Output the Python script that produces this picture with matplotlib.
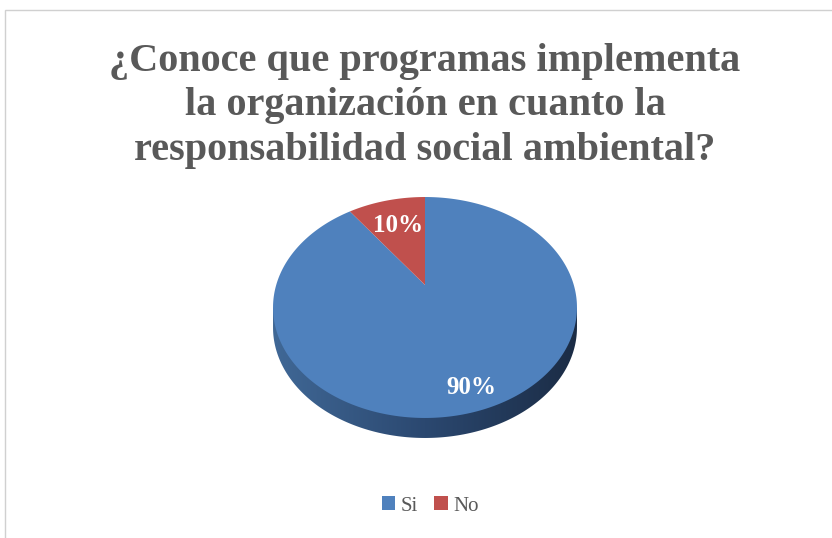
import matplotlib
matplotlib.use("Agg")
import matplotlib.pyplot as plt
import numpy as np
from matplotlib.patches import Rectangle, Polygon
from matplotlib.path import Path
from matplotlib.colors import LinearSegmentedColormap

TITLE = "¿Conoce que programas implementa\nla organización en cuanto la\nresponsabilidad social ambiental?"
labels = ["Si", "No"]
values = [90, 10]
colors = ["#4F81BD", "#C0504D"]

SERIF = "Liberation Serif"
W, H = 832, 538
fig = plt.figure(figsize=(W / 100, H / 100), dpi=100)

# chart area frame (only top/left edges visible)
fig.patches.append(Rectangle((5 / W, -0.1), 1.2, (H - 10) / H + 0.1,
                             transform=fig.transFigure, fill=False,
                             edgecolor="#d0d0d0", linewidth=1.0))

fig.text(425 / W, 1 - 106 / H, TITLE, ha="center", va="center",
         fontsize=29, fontweight="bold", color="#595959",
         family=SERIF, linespacing=1.27)

# perspective of a disc tilted away from the viewer
K = 0.2036


def project(x, y):
    d = 1 + K * y
    return x / d, y / d


apex_x, apex_y = 425, 285          # pixel position of the pie centre
sx, sy = 148.8, 105.9              # pixels per unit
D = 20 / sy                        # rim thickness

# the projected circle is an ellipse centred at (0, yc)
ea = 1 / np.sqrt(1 - K ** 2)
eb = 1 / (1 - K ** 2)
yc = -K / (1 - K ** 2)

xlim = (-1.12, 1.12)
ylim = (yc - eb - D - 0.08, 1 / (1 + K) + 0.06)
left = apex_x + xlim[0] * sx
bottom = (H - apex_y) + ylim[0] * sy
ax = fig.add_axes([left / W, bottom / H,
                   (xlim[1] - xlim[0]) * sx / W, (ylim[1] - ylim[0]) * sy / H])

wedges, _, autotexts = ax.pie(values, colors=colors, startangle=90,
                              counterclock=False, autopct="%1.0f%%",
                              wedgeprops=dict(linewidth=0),
                              textprops=dict(color="white", fontsize=18,
                                             fontweight="bold", family=SERIF))
ax.set_aspect("auto")
ax.set_xlim(*xlim)
ax.set_ylim(*ylim)
ax.axis("off")

# project each wedge outline (densely sampled) onto the tilted disc
for w in wedges:
    th = np.deg2rad(np.linspace(w.theta1, w.theta2, 300))
    px_, py_ = project(w.r * np.cos(th), w.r * np.sin(th))
    verts = np.vstack([[0, 0], np.column_stack([px_, py_]), [0, 0]])
    w._path = Path(verts, closed=True)
    w.set_zorder(2)

# percentage labels at their wedge's mid-angle, projected
label_r = [0.85, 0.67]
for w, a, r in zip(wedges, autotexts, label_r):
    mid = np.deg2rad((w.theta1 + w.theta2) / 2)
    a.set_position(project(r * np.cos(mid), r * np.sin(mid)))
    a.set_zorder(3)

# side of the disc: lower half of the outline dropped by the rim thickness
u = np.linspace(0, -np.pi, 240)
rim = np.vstack([[[-ea, yc], [ea, yc]],
                 np.column_stack([ea * np.cos(u), yc - D + eb * np.sin(u)])])
rim_patch = Polygon(rim[::-1], closed=True, facecolor="none", edgecolor="none")
ax.add_patch(rim_patch)
side_cmap = LinearSegmentedColormap.from_list("side", ["#406896", "#2b4870", "#1b2c45"])
grad = np.linspace(0, 1, 256).reshape(1, -1)
im = ax.imshow(grad, cmap=side_cmap, extent=(-ea, ea, yc - D - eb - 0.02, yc),
               aspect="auto", zorder=1)
im.set_clip_path(rim_patch)

# legend
handles = [Rectangle((0, 0), 1, 1, facecolor=c, edgecolor="none") for c in colors]
fig.legend(handles, labels, loc="center", bbox_to_anchor=(430 / W, 1 - 506 / H),
           ncol=2, frameon=False, handlelength=0.65, handleheight=0.65,
           handletextpad=0.25, columnspacing=0.8,
           prop=dict(family=SERIF, size=15), labelcolor="#595959")

fig.savefig("out.png", dpi=100)
